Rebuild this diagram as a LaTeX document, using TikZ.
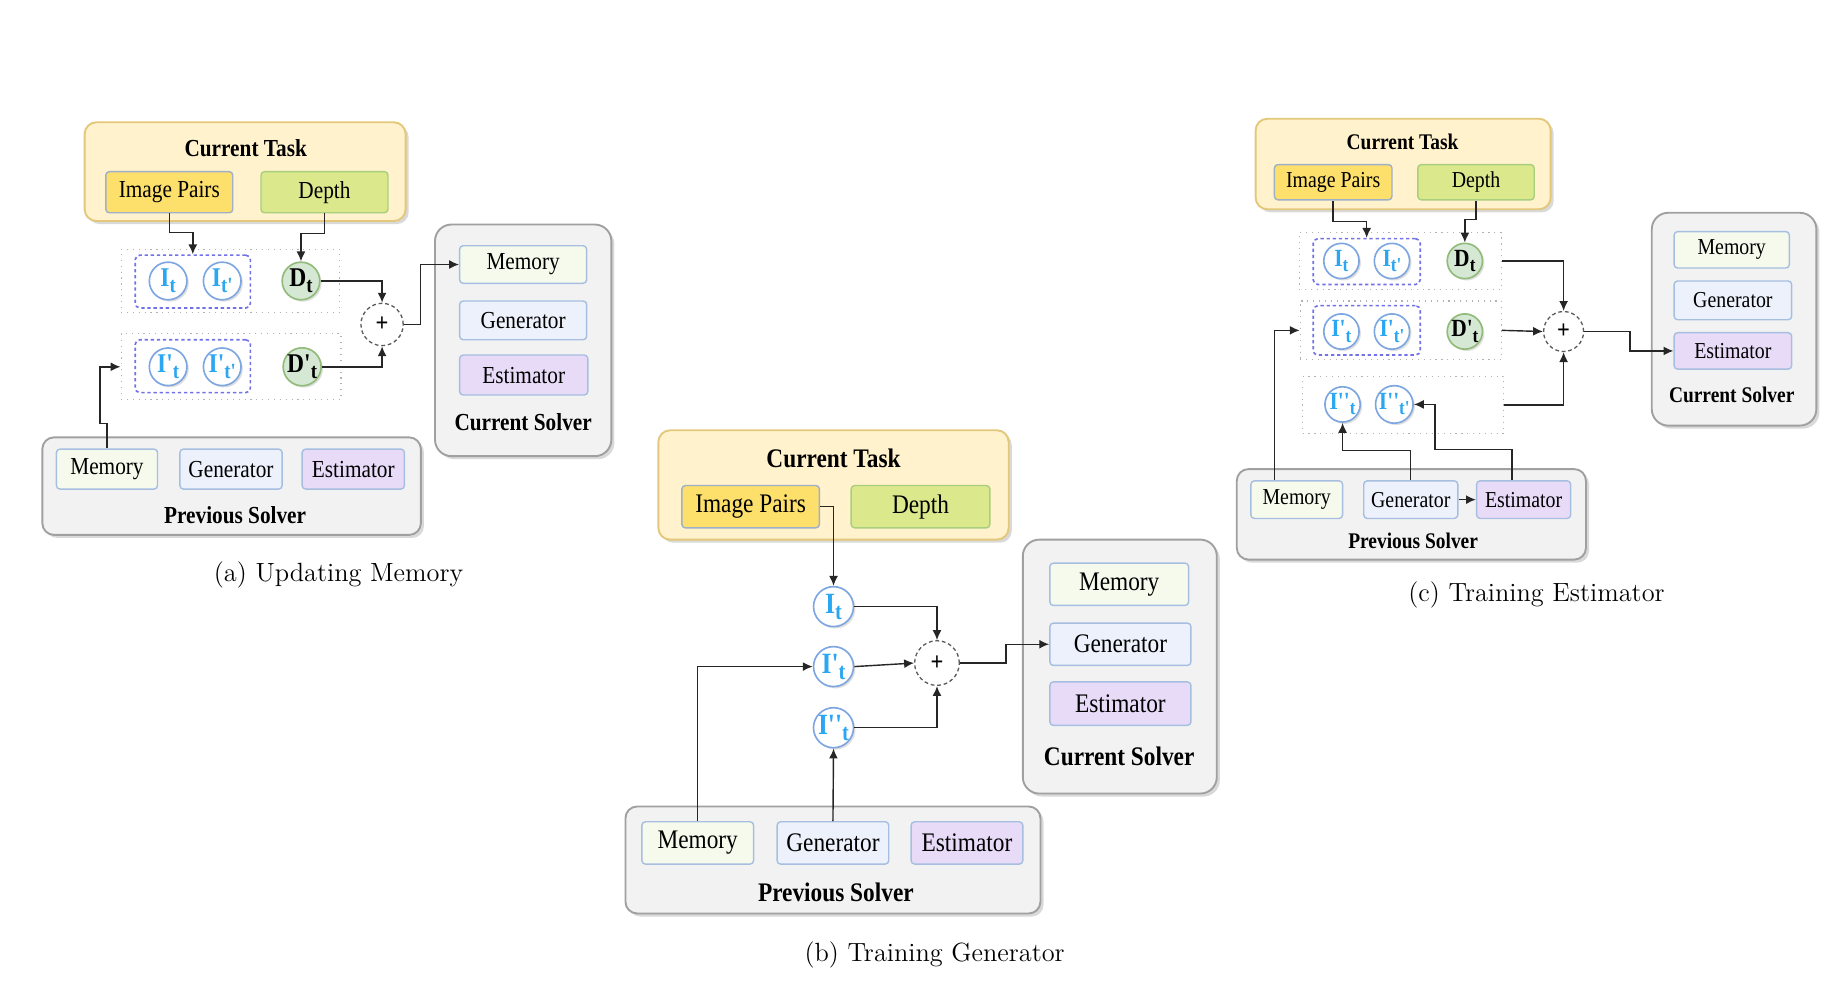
\documentclass[tikz,border=0pt]{standalone}
\usepackage{fontspec}
\newfontfamily\tnr[FakeStretch=0.87]{Liberation Serif}
\usetikzlibrary{shadows,arrows.meta,calc}
\definecolor{taskfill}{HTML}{FFF2CC}
\definecolor{taskdraw}{HTML}{E3C77A}
\definecolor{ipfill}{HTML}{FCE06B}
\definecolor{ipdraw}{HTML}{9FB0C8}
\definecolor{dfill}{HTML}{DCE88C}
\definecolor{ddraw}{HTML}{A8CF7E}
\definecolor{memfill}{HTML}{F5FAEC}
\definecolor{genfill}{HTML}{ECF1FB}
\definecolor{estfill}{HTML}{E8DBF8}
\definecolor{subdraw}{HTML}{A6BFE0}
\definecolor{solfill}{HTML}{F2F2F2}
\definecolor{soldraw}{HTML}{A0A0A0}
\definecolor{cfdraw}{HTML}{7EA6E0}
\definecolor{ctext}{HTML}{2AA6F2}
\definecolor{dcfill}{HTML}{D5E8D4}
\definecolor{dcdraw}{HTML}{92BB7A}
\definecolor{indraw}{HTML}{7272E6}
\tikzset{
  sh/.style={drop shadow={shadow xshift=1.3pt,shadow yshift=-1.3pt,opacity=0.3,fill=gray}},
  task/.style={draw=taskdraw,fill=taskfill,rounded corners=5pt,line width=0.8pt,sh,inner sep=0pt},
  sol/.style={draw=soldraw,fill=solfill,rounded corners=7pt,line width=0.8pt,sh,inner sep=0pt},
  ipb/.style={draw=ipdraw,fill=ipfill,rounded corners=1.5pt,line width=0.6pt,inner sep=0pt},
  dpb/.style={draw=ddraw,fill=dfill,rounded corners=1.5pt,line width=0.6pt,inner sep=0pt},
  memb/.style={draw=subdraw,fill=memfill,rounded corners=1.5pt,line width=0.6pt,inner sep=0pt},
  genb/.style={draw=subdraw,fill=genfill,rounded corners=1.5pt,line width=0.6pt,inner sep=0pt},
  estb/.style={draw=subdraw,fill=estfill,rounded corners=1.5pt,line width=0.6pt,inner sep=0pt},
  grp/.style={draw=gray!60,dotted,line width=0.5pt,inner sep=0pt},
  inb/.style={draw=indraw,dash pattern=on 1.4pt off 1.2pt,line width=0.7pt,rounded corners=2pt,inner sep=0pt},
  ic/.style={circle,draw=cfdraw,fill=white,line width=0.7pt,inner sep=0pt,text=ctext,
    drop shadow={shadow xshift=0.8pt,shadow yshift=-0.8pt,opacity=0.25,fill=gray}},
  dc/.style={circle,draw=dcdraw,fill=dcfill,line width=0.7pt,inner sep=0pt,
    drop shadow={shadow xshift=0.8pt,shadow yshift=-0.8pt,opacity=0.25,fill=gray}},
  pl/.style={circle,draw=black!65,fill=white,dash pattern=on 1.6pt off 1.2pt,line width=0.55pt,inner sep=0pt,font=\tnr\bfseries\fontsize{11}{11}\selectfont},
  arr/.style={-{Latex[length=4.2pt,width=3.8pt]},line width=0.6pt,black!85},
  ttl/.style={font=\tnr\bfseries\fontsize{#1}{#1}\selectfont},
  capt/.style={font=\fontsize{11.2}{13}\selectfont},
}
\newcommand{\sbt}[1]{\raisebox{-0.45ex}{\fontsize{0.8em}{1em}\selectfont #1}}
% box by corners: style, name, x1, y1, x2, y2, text
\newcommand{\bx}[7]{\node[#1,minimum width={(#5-#3)*0.5pt},minimum height={(#6-#4)*0.5pt}] (#2) at ({(#3+#5)/2},{(#4+#6)/2}) {#7};}
\begin{document}
\begin{tikzpicture}[x=0.5pt,y=-0.5pt]
\useasboundingbox (0,0) rectangle (1560,850);
% ================= Panel (a) =================
\begin{scope}[font=\tnr\fontsize{10.4}{11}\selectfont]
\bx{task}{aT}{72}{104}{345}{188}{}
\node[ttl=10.4] (aTt) at (209,126) {Current Task};
\bx{ipb}{aIP}{90}{146}{198}{181}{Image Pairs}
\bx{dpb}{aD}{222}{146}{330}{181}{Depth}
\bx{grp}{aG1}{103}{212}{289}{266}{}
\bx{inb}{aIn1}{115}{217}{213}{262}{}
\bx{grp}{aG2}{103}{284}{290}{340}{}
\bx{inb}{aIn2}{115}{289}{213}{334}{}
\begin{scope}[every node/.append style={minimum size=16pt,font=\tnr\bfseries\fontsize{11.5}{12}\selectfont}]
\node[ic] (aIt) at (143,239) {I\sbt{t}};
\node[ic] (aItp) at (189,239) {I\sbt{t'}};
\node[dc] (aDt) at (256,239) {D\sbt{t}};
\node[ic] (aIpt) at (143,312) {I'\sbt{t}};
\node[ic] (aIptp) at (189,312) {I'\sbt{t'}};
\node[dc] (aDpt) at (257,312) {D'\sbt{t}};
\end{scope}
\node[pl,minimum size=18pt] (aPl) at (325,276) {+};
\bx{sol}{aCS}{370}{191}{520}{388}{}
\bx{memb}{aCMem}{391}{209}{499}{241}{Memory}
\bx{genb}{aCGen}{391}{256}{499}{289}{Generator}
\bx{estb}{aCEst}{391}{302}{500}{336}{Estimator}
\node[ttl=10.4] (aCSt) at (445,359) {Current Solver};
\bx{sol,rounded corners=5pt}{aPS}{36}{372}{358}{455}{}
\bx{memb}{aPMem}{48}{382}{134}{416}{Memory}
\bx{genb}{aPGen}{153}{382}{240}{416}{Generator}
\bx{estb}{aPEst}{257}{382}{344}{416}{Estimator}
\node[ttl=10.4] (aPSt) at (200,438) {Previous Solver};
\end{scope}
\node[capt] (aCap) at (288,489) {(a) Updating Memory};
\draw[arr] (aIP.south) -- ++(0,16) -| (aIn1.north);
\draw[arr] (aD.south) -- ++(0,17) -| (aDt.north);
\draw[arr] (aDt.east) -| (aPl.north);
\draw[arr] (aDpt.east) -| (aPl.south);
\draw[arr] (aPl.east) -- ++(14,0) |- (aCMem.west);
\draw[arr] (aPMem.north) -- ++(0,-21) -- ++(-6,0) |- (aG2.west);
% ================= Panel (b) =================
\begin{scope}[font=\tnr\fontsize{11.4}{12}\selectfont]
\bx{task}{bT}{560}{366}{858}{459}{}
\node[ttl=11.4] (bTt) at (709,390) {Current Task};
\bx{ipb}{bIP}{580}{413}{697}{449}{Image Pairs}
\bx{dpb}{bD}{724}{413}{842}{449}{Depth}
\begin{scope}[every node/.append style={minimum size=17pt,font=\tnr\bfseries\fontsize{12.5}{13}\selectfont}]
\node[ic] (bIt) at (709,516) {I\sbt{t}};
\node[ic] (bIpt) at (709,567) {I'\sbt{t}};
\node[ic] (bIppt) at (709,619) {I''\sbt{t}};
\end{scope}
\node[pl,minimum size=19pt] (bPl) at (797,564) {+};
\bx{sol}{bCS}{870}{459}{1035}{675}{}
\bx{memb}{bCMem}{893}{479}{1011}{515}{Memory}
\bx{genb}{bCGen}{893}{530}{1013}{566}{Generator}
\bx{estb}{bCEst}{893}{580}{1013}{617}{Estimator}
\node[ttl=11.4] (bCSt) at (952,643) {Current Solver};
\bx{sol,rounded corners=5pt}{bPS}{532}{686}{885}{777}{}
\bx{memb}{bPMem}{546}{699}{641}{735}{Memory}
\bx{genb}{bPGen}{661}{699}{756}{735}{Generator}
\bx{estb}{bPEst}{775}{699}{870}{735}{Estimator}
\node[ttl=11.4] (bPSt) at (711,759) {Previous Solver};
\end{scope}
\node[capt] (bCap) at (795,812) {(b) Training Generator};
\draw[arr] (bIP.east) -| (bIt.north);
\draw[arr] (bIt.east) -| (bPl.north);
\draw[arr] (bIpt.east) -- (bPl.west);
\draw[arr] (bIppt.east) -| (bPl.south);
\draw[arr] (bPl.east) -- ++(39,0) |- (bCGen.west);
\draw[arr] (bPMem.north) |- (bIpt.west);
\draw[arr] (bPGen.north) -- (bIppt.south);
% ================= Panel (c) =================
\begin{scope}[font=\tnr\fontsize{9.7}{10}\selectfont]
\bx{task}{cT}{1068}{101}{1319}{178}{}
\node[ttl=9.5] (cTt) at (1193,121) {Current Task};
\bx{ipb}{cIP}{1084}{140}{1184}{170}{Image Pairs}
\bx{dpb}{cD}{1206}{140}{1305}{170}{Depth}
\bx{grp}{cG1}{1105}{198}{1277}{246}{}
\bx{inb}{cIn1}{1117}{203}{1208}{242}{}
\bx{grp}{cG2}{1106}{256}{1277}{306}{}
\bx{inb}{cIn2}{1117}{260}{1208}{302}{}
\bx{grp}{cG3}{1108}{320}{1279}{369}{}
\begin{scope}[every node/.append style={minimum size=15pt,font=\tnr\bfseries\fontsize{10.5}{11}\selectfont}]
\node[ic] (cIt) at (1141,222) {I\sbt{t}};
\node[ic] (cItp) at (1184,222) {I\sbt{t'}};
\node[dc] (cDt) at (1246,222) {D\sbt{t}};
\node[ic] (cIpt) at (1141,282) {I'\sbt{t}};
\node[ic] (cIptp) at (1184,282) {I'\sbt{t'}};
\node[dc] (cDpt) at (1246,282) {D'\sbt{t}};
\node[ic] (cIppt) at (1142,344) {I''\sbt{t}};
\node[ic] (cIpptp) at (1186,344) {I''\sbt{t'}};
\end{scope}
\node[pl,minimum size=17pt] (cPl) at (1330,282) {+};
\bx{sol}{cCS}{1405}{181}{1545}{362}{}
\bx{memb}{cCMem}{1424}{197}{1522}{228}{Memory}
\bx{genb}{cCGen}{1424}{239}{1524}{272}{Generator}
\bx{estb}{cCEst}{1424}{283}{1524}{314}{Estimator}
\node[ttl=9.5] (cCSt) at (1473,336) {Current Solver};
\bx{sol,rounded corners=5pt}{cPS}{1052}{399}{1349}{476}{}
\bx{memb}{cPMem}{1064}{409}{1142}{441}{Memory}
\bx{genb}{cPGen}{1160}{409}{1240}{441}{Generator}
\bx{estb}{cPEst}{1256}{409}{1336}{441}{Estimator}
\node[ttl=9.5] (cPSt) at (1202,460) {Previous Solver};
\end{scope}
\node[capt] (cCap) at (1307,506) {(c) Training Estimator};
\draw[arr] (cIP.south) -- ++(0,18) -| (cIn1.north);
\draw[arr] (cD.south) -- ++(0,16) -| (cDt.north);
\draw[arr] (cG1.east) -| (cPl.north);
\draw[arr] (cG2.east) -- (cPl.west);
\draw[arr] (cG3.east) -| (cPl.south);
\draw[arr] (cPl.east) -- ++(39,0) |- (cCEst.west);
\draw[arr] ($(cPMem.north)+(-19,0)$) |- (cG2.west);
\draw[arr] (cPGen.north) -- ++(0,-25) -| (cIppt.south);
\draw[arr] ($(cPEst.north)+(-10,0)$) -- ++(0,-26) -| ($(cIpptp.east)+(18,0)$) -- (cIpptp.east);
\draw[arr] (cPGen.east) -- (cPEst.west);
\end{tikzpicture}
\end{document}
